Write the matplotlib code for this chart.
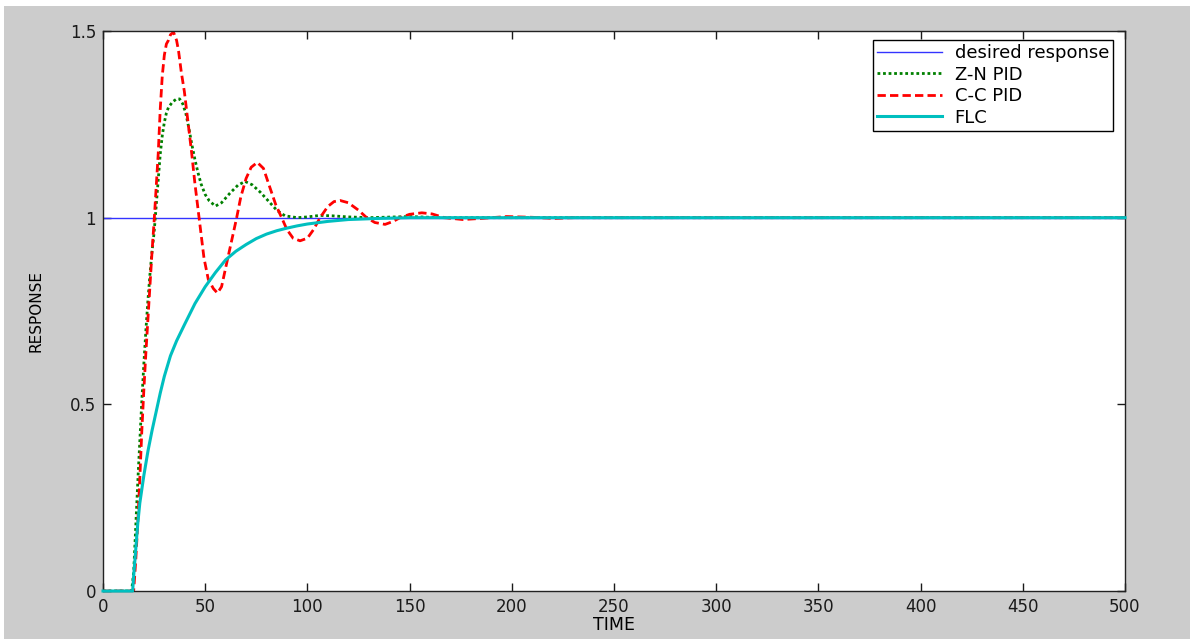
import matplotlib
matplotlib.use("Agg")
import matplotlib.pyplot as plt
from matplotlib.patches import Rectangle

# values
desired_t = [0, 500]
desired_y = [1, 1]

zn_t = [0, 14, 15, 16, 17, 18, 19, 20, 21, 22, 23, 24, 25, 26, 27, 28, 29, 30, 31, 32,
        34, 36, 37.5, 39, 40.5, 42, 43.5, 45, 46.5, 48, 50, 52, 55, 58, 62, 66, 69.5,
        73, 77, 81.7, 85, 89, 95, 100, 106, 112, 120, 130, 150, 165, 500]
zn_y = [0, 0, 0.05, 0.17, 0.29, 0.40, 0.51, 0.61, 0.70, 0.78, 0.85, 0.91, 0.96, 1.03,
        1.10, 1.17, 1.22, 1.255, 1.28, 1.295, 1.31, 1.318, 1.318, 1.305, 1.28, 1.24,
        1.195, 1.155, 1.12, 1.09, 1.062, 1.045, 1.031, 1.04, 1.065, 1.087, 1.097,
        1.088, 1.068, 1.04, 1.02, 1.005, 1.0, 1.002, 1.006, 1.005, 1.002, 1.0, 1.003,
        1.0, 1.0]

cc_t = [0, 15, 16, 17, 18, 19, 20, 21, 22, 23, 24, 25, 26, 27, 28, 29, 30, 31, 32, 33,
        34.5, 36, 37, 38.3, 39.8, 41.5, 43.3, 45, 47, 49.4, 51.5, 54, 56, 58, 60.5, 63,
        65.4, 67.4, 70, 72.5, 75.5, 78.5, 81.7, 84.5, 87.4, 90, 93, 96.4, 100, 103,
        106.2, 110, 113, 116, 120, 125, 129, 133, 138, 142, 145.3, 150, 156, 161, 167,
        176, 185, 197.5, 210, 221, 230, 500]
cc_y = [0, 0, 0.08, 0.18, 0.30, 0.43, 0.54, 0.64, 0.73, 0.82, 0.91, 0.99, 1.08, 1.17,
        1.29, 1.38, 1.435, 1.465, 1.475, 1.49, 1.497, 1.475, 1.445, 1.39, 1.338, 1.26,
        1.177, 1.09, 1.0, 0.892, 0.835, 0.81, 0.798, 0.815, 0.878, 0.94, 1.0, 1.055,
        1.105, 1.135, 1.148, 1.132, 1.08, 1.035, 1.0, 0.968, 0.945, 0.938, 0.945, 0.968,
        1.0, 1.03, 1.043, 1.046, 1.04, 1.02, 1.0, 0.987, 0.982, 0.99, 1.0, 1.009, 1.013,
        1.01, 1.0, 0.995, 0.998, 1.003, 1.001, 0.998, 1.0, 1.0]

flc_t = [0, 14.5, 15, 16, 17, 18, 20, 22, 24, 26, 28, 30, 33, 36, 40, 45, 50, 55, 60,
         65, 70, 75, 80, 85, 90, 95, 100, 110, 120, 135, 150, 500]
flc_y = [0, 0, 0.04, 0.11, 0.18, 0.235, 0.31, 0.375, 0.43, 0.48, 0.53, 0.575, 0.63,
         0.67, 0.715, 0.77, 0.815, 0.853, 0.887, 0.91, 0.928, 0.944, 0.956, 0.965,
         0.972, 0.978, 0.983, 0.99, 0.995, 0.998, 1.0, 1.0]

xticks = [0, 50, 100, 150, 200, 250, 300, 350, 400, 450, 500]
yticks = [0, 0.5, 1, 1.5]
ytick_labels = ["0", "0.5", "1", "1.5"]

plt.rcParams['font.family'] = ['DejaVu Sans']

fig = plt.figure(figsize=(11.9, 6.39), dpi=100, facecolor='white')
fig.patches.append(Rectangle((4 / 1190, 0), 1, 1 - 6 / 639, transform=fig.transFigure,
                             facecolor='#cccccc', edgecolor='none', zorder=-1))
ax = fig.add_axes([103 / 1190, 1 - 591 / 639, 1022 / 1190, 560 / 639])

ax.plot(desired_t, desired_y, color='#3333ff', lw=1.0, label='desired response')
ax.plot(zn_t, zn_y, color='#008000', lw=2.0, linestyle=(0, (1, 1)), label='Z-N PID')
ax.plot(cc_t, cc_y, color='#ff0000', lw=2.0, linestyle=(0, (3, 1.5)), label='C-C PID')
ax.plot(flc_t, flc_y, color='#00bfbf', lw=2.2, label='FLC', clip_on=False, zorder=5)

ax.set_xlim(0, 500)
ax.set_ylim(0, 1.5)
ax.set_xticks(xticks)
ax.set_yticks(yticks)
ax.set_yticklabels(ytick_labels)
ax.tick_params(direction='in', length=6, width=1, top=True, right=True,
               labelsize=12, colors='#1a1a1a', pad=5)
for s in ax.spines.values():
    s.set_linewidth(1)
    s.set_color('#222222')

ax.set_xlabel('TIME', fontsize=12.5)
ax.xaxis.set_label_coords(0.5, -0.045)
ax.set_ylabel('RESPONSE', fontsize=11)
ax.yaxis.set_label_coords(-0.058, 0.5)

leg = ax.legend(loc='upper right', bbox_to_anchor=(1 - 12 / 1022, 1 - 9 / 560),
                borderaxespad=0, fontsize=13, handlelength=3.6, handletextpad=0.7,
                borderpad=0.22, labelspacing=0.2, fancybox=False, framealpha=1)
leg.get_frame().set_edgecolor('black')
leg.get_frame().set_linewidth(1)

fig.savefig('out.png', dpi=100, facecolor=fig.get_facecolor())
